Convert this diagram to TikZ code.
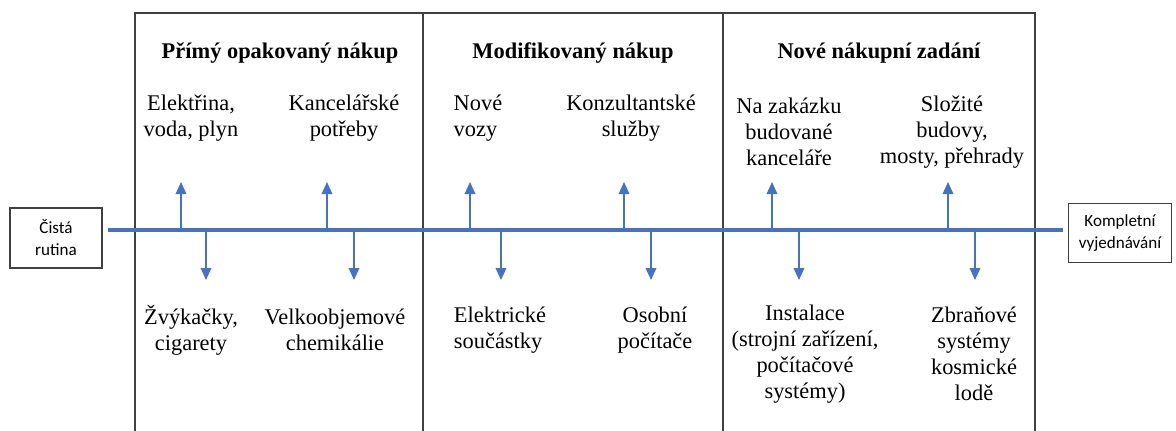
\documentclass[tikz,border=0pt]{standalone}
\usepackage{fontspec}
\setmainfont{Liberation Serif}
\newfontfamily\itemfont{Liberation Serif}
\newfontfamily\boxfont{Carlito}
\usetikzlibrary{arrows.meta, positioning}
\definecolor{LB}{RGB}{68,114,196}
\definecolor{DG}{RGB}{64,64,64}

\begin{document}
\begin{tikzpicture}[x=0.75pt, y=-0.75pt,
  endbox/.style={draw=DG, line width=0.8pt, align=center, inner sep=0pt,
                 font=\boxfont\fontsize{12.8}{16.5}\selectfont},
  head/.style={font=\itemfont\fontsize{16.8}{19.5}\selectfont\bfseries},
  item/.style={align=center, inner sep=0pt, font=\itemfont\fontsize{16.8}{19.5}\selectfont},
  panel/.style={draw=DG, line width=1pt},
  axis/.style={draw=LB, line width=2.4pt},
  arr/.style={-{Triangle[length=9pt,width=8pt]}, draw=LB, fill=LB, line width=1pt}
]
\useasboundingbox (0,0) rectangle (1176,430);

% Panels
\draw[panel] (135,440) -- (135,13) -- (1035,13) -- (1035,440);
\draw[panel] (423,13) -- (423,440);
\draw[panel] (723,13) -- (723,440);

% Headings
\node[head] (h1) at (280,53) {Přímý opakovaný nákup};
\node[head] (h2) at (573,53) {Modifikovaný nákup};
\node[head] (h3) at (879,53) {Nové nákupní zadání};

% End boxes and axis
\node[endbox, minimum width=69pt, minimum height=45pt] (rut) at (56,238) {Čistá\\rutina};
\node[endbox, minimum width=77pt, minimum height=44pt] (kom) at (1120,233) {Kompletní\\vyjednávání};
\coordinate (ls) at (108,230);
\coordinate (le) at (1063,230);
\draw[axis] (ls) -- (le);

% Items above the axis
\node[item] (ele) at (191,118) {Elektřina,\\voda, plyn};
\node[item] (kan) at (344,118) {Kancelářské\\potřeby};
\node[item, align=left] (voz) at (478,118) {Nové\\vozy};
\node[item] (kon) at (631,118) {Konzultantské\\služby};
\node[item] (zak) at (789,132) {Na zakázku\\budované\\kanceláře};
\node[item] (slo) at (952,132) {Složité\\budovy,\\mosty, přehrady};

% Items below the axis
\node[item] (zvy) at (191,330) {Žvýkačky,\\cigarety};
\node[item] (vel) at (335,330) {Velkoobjemové\\chemikálie};
\node[item, align=left] (sou) at (500,330) {Elektrické\\součástky};
\node[item] (poc) at (655,330) {Osobní\\počítače};
\node[item] (ins) at (805,354) {Instalace\\(strojní zařízení,\\počítačové\\systémy)};
\node[item] (zbr) at (974,354) {Zbraňové\\systémy\\kosmické\\lodě};

% Arrows up
\coordinate (a1) at (181,230); \coordinate (t1) at (181,182);
\coordinate (a2) at (327,230); \coordinate (t2) at (327,182);
\coordinate (a3) at (470,230); \coordinate (t3) at (470,182);
\coordinate (a4) at (624,230); \coordinate (t4) at (624,182);
\coordinate (a5) at (772,230); \coordinate (t5) at (772,182);
\coordinate (a6) at (948,230); \coordinate (t6) at (948,182);
\draw[arr] (a1) -- (t1);
\draw[arr] (a2) -- (t2);
\draw[arr] (a3) -- (t3);
\draw[arr] (a4) -- (t4);
\draw[arr] (a5) -- (t5);
\draw[arr] (a6) -- (t6);

% Arrows down
\coordinate (b1) at (206,230); \coordinate (d1) at (206,280);
\coordinate (b2) at (354,230); \coordinate (d2) at (354,280);
\coordinate (b3) at (501,230); \coordinate (d3) at (501,280);
\coordinate (b4) at (651,230); \coordinate (d4) at (651,280);
\coordinate (b5) at (799,230); \coordinate (d5) at (799,280);
\coordinate (b6) at (975,230); \coordinate (d6) at (975,280);
\draw[arr] (b1) -- (d1);
\draw[arr] (b2) -- (d2);
\draw[arr] (b3) -- (d3);
\draw[arr] (b4) -- (d4);
\draw[arr] (b5) -- (d5);
\draw[arr] (b6) -- (d6);
\end{tikzpicture}
\end{document}
